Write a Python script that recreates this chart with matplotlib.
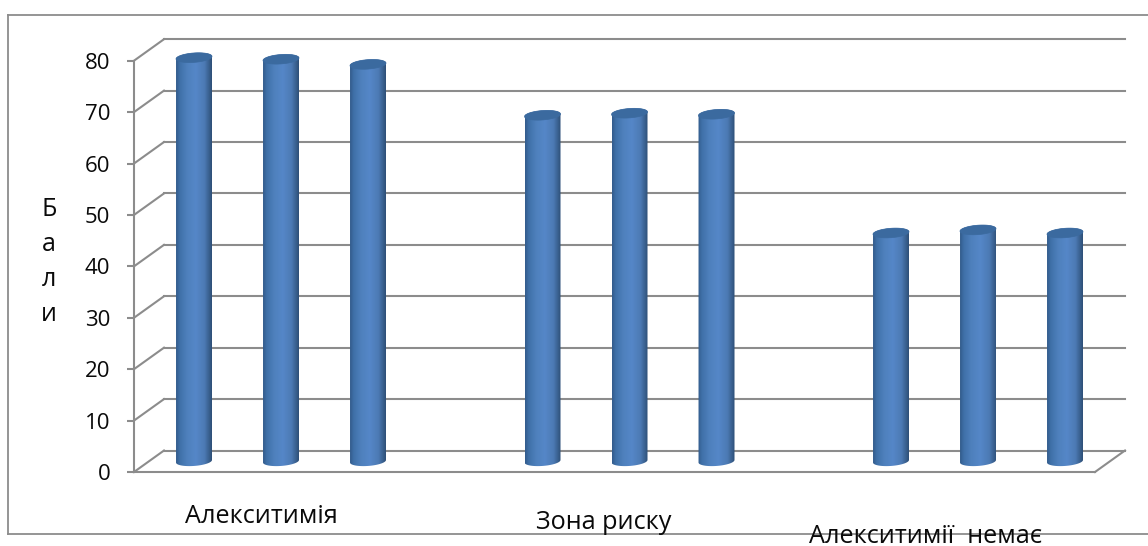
import matplotlib
matplotlib.use("Agg")
import matplotlib.pyplot as plt
import numpy as np
from matplotlib.patches import Polygon

categories = ["Алекситимія", "Зона риску", "Алекситимії  немає"]
series_1 = [78.5, 67.3, 44.4]
series_2 = [78.2, 67.7, 45.0]
series_3 = [77.2, 67.5, 44.4]
y_ticks = [0, 10, 20, 30, 40, 50, 60, 70, 80]
y_label = "Б\nа\nл\nи"

W, H = 1148, 546
GREY = "#8c8c8c"
plt.rcParams["font.family"] = ["Open Sans", "DejaVu Sans"]

fig = plt.figure(figsize=(W / 100, H / 100), dpi=100)
ax = fig.add_axes([134 / W, 1 - 472 / H, (1095 - 134) / W, (472 - 60.7) / H])

# one category step is 348.5 px on the floor of the chart
ax.set_xlim((134 - 266) / 348.5, (1095 - 266) / 348.5)
ax.set_ylim(0, 80)
ax.autoscale(False)
xpx = 348.5
ypx = (472 - 60.7) / 80
depth_x, depth_y = 30 / xpx, 21.5 / ypx
x0, x1 = ax.get_xlim()

for name in ["top", "right"]:
    ax.spines[name].set_visible(False)
for name in ["left", "bottom"]:
    ax.spines[name].set_color(GREY)
    ax.spines[name].set_linewidth(1.5)
ax.set_xticks([])
ax.set_yticks(y_ticks)
ax.tick_params(axis="y", length=5, width=1.5, color=GREY, pad=12, labelsize=16, labelcolor="#0a0a0a")
ax.patch.set_visible(False)

# back wall grid and the slanted side wall lines
for v in y_ticks:
    ax.plot([x0 + depth_x, x1 + depth_x], [v + depth_y, v + depth_y], color=GREY, lw=1.5, clip_on=False, zorder=1)
    ax.plot([x0, x0 + depth_x], [v, v + depth_y], color=GREY, lw=1.5, clip_on=False, zorder=1)
ax.plot([x1, x1 + depth_x], [0, depth_y], color=GREY, lw=1.5, clip_on=False, zorder=1)

# shading across a cylinder, dark at the edges
stops = np.array([0, 0.1, 0.3, 0.55, 0.8, 1])
reds = np.array([0x33, 0x3f, 0x4e, 0x55, 0x4c, 0x2e])
greens = np.array([0x5c, 0x70, 0x80, 0x87, 0x7a, 0x50])
blues = np.array([0x8c, 0xa8, 0xbc, 0xc8, 0xb4, 0x78])
t = np.linspace(0, 1, 64)
shade = np.dstack([np.interp(t, stops, c) for c in (reds, greens, blues)]) / 255

half_w = 18
semi_h = 4.7
shear = 0.07
ang = np.linspace(0, 2 * np.pi, 60)


def cylinder(xc, value):
    yc = depth_y / 2
    xc = xc + depth_x / 2
    top = yc + value
    # outline is worked out in pixels, then turned back to data units
    ex = half_w * np.cos(ang)
    ey = semi_h * np.sin(ang) + shear * ex
    lx = half_w * np.cos(ang[ang >= np.pi])
    ly = semi_h * np.sin(ang[ang >= np.pi]) + shear * lx
    hx = half_w * np.cos(ang[ang < np.pi])
    hy = semi_h * np.sin(ang[ang < np.pi]) + shear * hx
    body = np.vstack([
        np.column_stack([xc + lx / xpx, yc + ly / ypx]),
        np.column_stack([xc + hx / xpx, top + hy / ypx]),
    ])
    clip = Polygon(body, closed=True, transform=ax.transData, fc="none", ec="none")
    ax.add_patch(clip)
    im = ax.imshow(shade, extent=[xc - half_w / xpx, xc + half_w / xpx, yc - 8 / ypx, top + 8 / ypx],
                   aspect="auto", interpolation="bilinear", zorder=3)
    im.set_clip_box(fig.bbox)
    im.set_clip_path(clip)
    cap = np.column_stack([xc + ex / xpx, top + ey / ypx])
    ax.add_patch(Polygon(cap, closed=True, fc="#3b6a9f", ec="#3b6a9f", lw=0.5, zorder=4, clip_on=False))


for i in range(len(categories)):
    cylinder(i - 87 / xpx, series_1[i])
    cylinder(i, series_2[i])
    cylinder(i + 87 / xpx, series_3[i])

# outer frame, open on the right side
fig.add_artist(plt.Line2D([8 / W, 8 / W], [1 - 15 / H, 1 - 534 / H], color=GREY, lw=1.3))
fig.add_artist(plt.Line2D([8 / W, 1], [1 - 15 / H, 1 - 15 / H], color=GREY, lw=1.3))
fig.add_artist(plt.Line2D([8 / W, 1], [1 - 534 / H, 1 - 534 / H], color=GREY, lw=1.3))

fig.text(49 / W, 1 - 262 / H, y_label, ha="center", va="center", fontsize=18, linespacing=1.54, color="#0a0a0a")
label_xy = [(261.5, 522.7), (604, 529), (926, 543)]
for name, (px, py) in zip(categories, label_xy):
    fig.text(px / W, 1 - py / H, name, ha="center", va="baseline", fontsize=18.2, color="#0a0a0a", zorder=10)

fig.savefig("out.png", dpi=100)
